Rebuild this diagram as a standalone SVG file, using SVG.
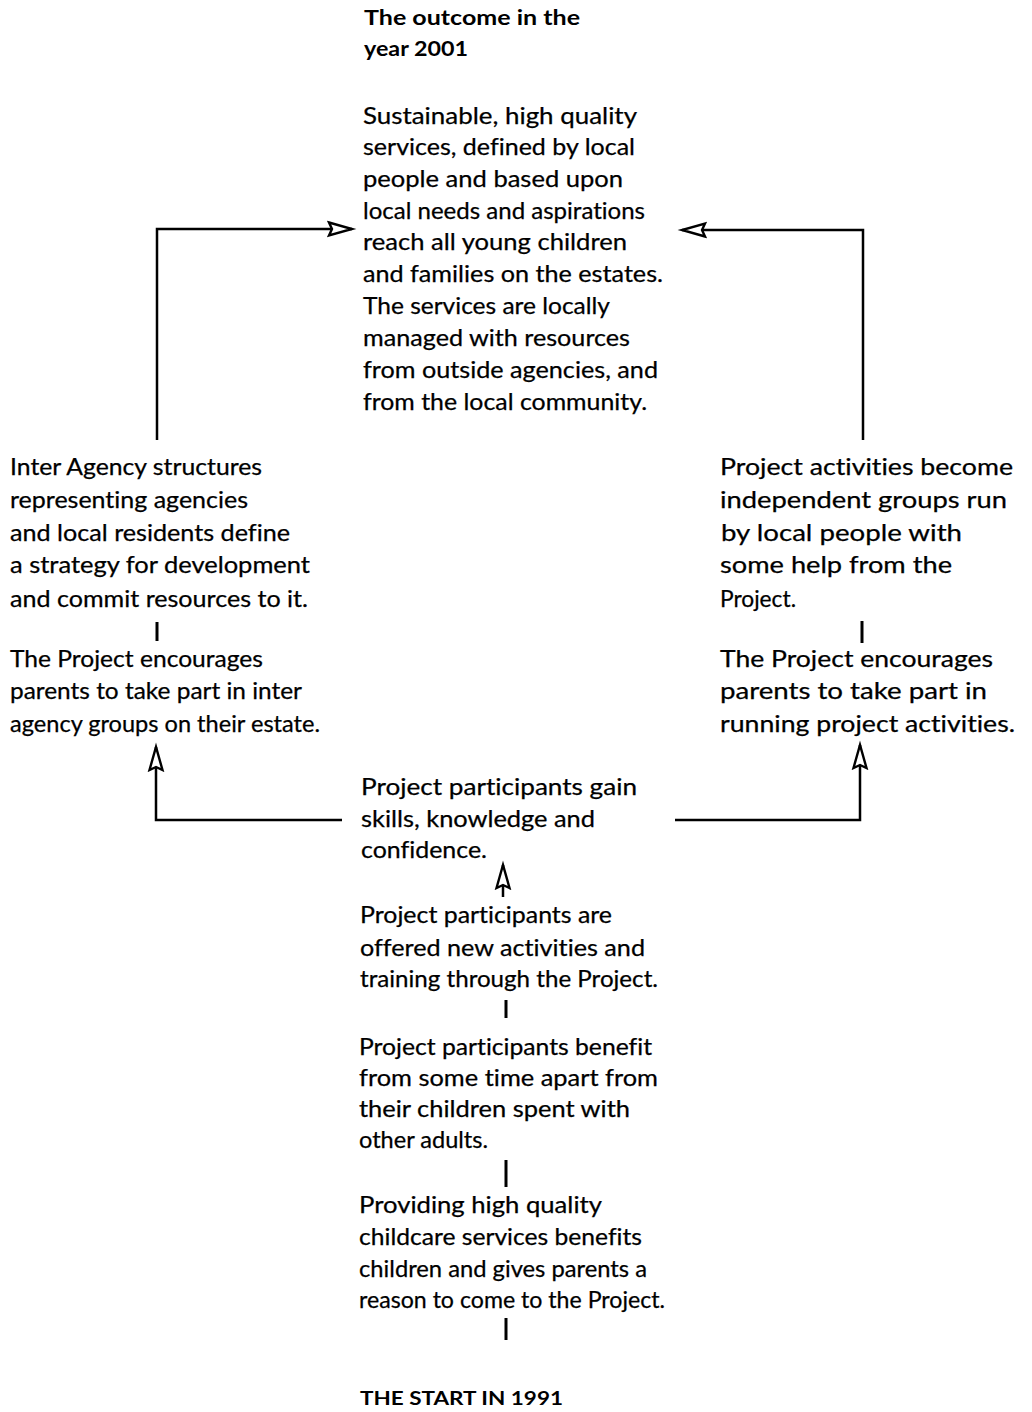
<svg xmlns="http://www.w3.org/2000/svg" width="1032" height="1412" viewBox="0 0 1032 1412">
<style>
  text { font-family: Lato, "Open Sans", "Liberation Sans", sans-serif; fill: #000; font-variant-ligatures: none; }
  .body { font-size: 23px; stroke: #000; stroke-width: 0.25px; }
  .bold { font-weight: bold; font-size: 21px; }
  .caps { font-weight: bold; font-size: 18px; }
  .conn { fill: none; stroke: #000; stroke-width: 2.5; }
  .bar { stroke: #000; stroke-width: 3; }
</style>
<defs>
  <marker id="openArrow" markerUnits="userSpaceOnUse" markerWidth="30" markerHeight="18" refX="25" refY="9" orient="auto">
    <path d="M2,2.5 L25,9 L2,15.5 L5,9 Z" fill="#fff" stroke="#000" stroke-width="2.4" stroke-linejoin="miter"/>
  </marker>
</defs>
<rect width="1032" height="1412" fill="#fff"/>

<g id="connectors">
  <path class="conn" d="M157,440 V229 H352" marker-end="url(#openArrow)"/>
  <path class="conn" d="M863,440 V230 H682" marker-end="url(#openArrow)"/>
  <path class="conn" d="M342,820 H156 V747" marker-end="url(#openArrow)"/>
  <path class="conn" d="M675,820 H860 V745" marker-end="url(#openArrow)"/>
  <path class="conn" d="M503,897 V865" marker-end="url(#openArrow)"/>
  <line class="bar" x1="157" y1="622" x2="157" y2="641"/>
  <line class="bar" x1="862" y1="621" x2="862" y2="643"/>
  <line class="bar" x1="506" y1="1000" x2="506" y2="1018"/>
  <line class="bar" x1="506" y1="1160" x2="506" y2="1187"/>
  <line class="bar" x1="506" y1="1318" x2="506" y2="1340"/>
</g>

<g id="outcome">
  <text class="bold" x="364" y="25" textLength="216" lengthAdjust="spacingAndGlyphs">The outcome in the</text>
  <text class="bold" x="364" y="56" textLength="104" lengthAdjust="spacingAndGlyphs">year 2001</text>
  <text class="body" x="363" y="124" textLength="274" lengthAdjust="spacingAndGlyphs">Sustainable, high quality</text>
  <text class="body" x="363" y="155" textLength="272" lengthAdjust="spacingAndGlyphs">services, defined by local</text>
  <text class="body" x="363" y="187" textLength="260" lengthAdjust="spacingAndGlyphs">people and based upon</text>
  <text class="body" x="363" y="219" textLength="282" lengthAdjust="spacingAndGlyphs">local needs and aspirations</text>
  <text class="body" x="363" y="250" textLength="264" lengthAdjust="spacingAndGlyphs">reach all young children</text>
  <text class="body" x="363" y="282" textLength="300" lengthAdjust="spacingAndGlyphs">and families on the estates.</text>
  <text class="body" x="363" y="314" textLength="247" lengthAdjust="spacingAndGlyphs">The services are locally</text>
  <text class="body" x="363" y="346" textLength="267" lengthAdjust="spacingAndGlyphs">managed with resources</text>
  <text class="body" x="363" y="378" textLength="295" lengthAdjust="spacingAndGlyphs">from outside agencies, and</text>
  <text class="body" x="363" y="410" textLength="284" lengthAdjust="spacingAndGlyphs">from the local community.</text>
</g>

<g id="inter-agency">
  <text class="body" x="10" y="475" textLength="252" lengthAdjust="spacingAndGlyphs">Inter Agency structures</text>
  <text class="body" x="10" y="508" textLength="238" lengthAdjust="spacingAndGlyphs">representing agencies</text>
  <text class="body" x="10" y="541" textLength="280" lengthAdjust="spacingAndGlyphs">and local residents define</text>
  <text class="body" x="10" y="573" textLength="300" lengthAdjust="spacingAndGlyphs">a strategy for development</text>
  <text class="body" x="10" y="607" textLength="298" lengthAdjust="spacingAndGlyphs">and commit resources to it.</text>
</g>

<g id="parents-inter-agency">
  <text class="body" x="10" y="667" textLength="253" lengthAdjust="spacingAndGlyphs">The Project encourages</text>
  <text class="body" x="10" y="699" textLength="292" lengthAdjust="spacingAndGlyphs">parents to take part in inter</text>
  <text class="body" x="10" y="732" textLength="310" lengthAdjust="spacingAndGlyphs">agency groups on their estate.</text>
</g>

<g id="independent-groups">
  <text class="body" x="720" y="475" textLength="293" lengthAdjust="spacingAndGlyphs">Project activities become</text>
  <text class="body" x="720" y="508" textLength="287" lengthAdjust="spacingAndGlyphs">independent groups run</text>
  <text class="body" x="721" y="541" textLength="241" lengthAdjust="spacingAndGlyphs">by local people with</text>
  <text class="body" x="720" y="573" textLength="232" lengthAdjust="spacingAndGlyphs">some help from the</text>
  <text class="body" x="720" y="607" textLength="76" lengthAdjust="spacingAndGlyphs">Project.</text>
</g>

<g id="parents-running">
  <text class="body" x="720" y="667" textLength="273" lengthAdjust="spacingAndGlyphs">The Project encourages</text>
  <text class="body" x="720" y="699" textLength="267" lengthAdjust="spacingAndGlyphs">parents to take part in</text>
  <text class="body" x="720" y="732" textLength="295" lengthAdjust="spacingAndGlyphs">running project activities.</text>
</g>

<g id="gain-skills">
  <text class="body" x="361" y="795" textLength="276" lengthAdjust="spacingAndGlyphs">Project participants gain</text>
  <text class="body" x="361" y="827" textLength="234" lengthAdjust="spacingAndGlyphs">skills, knowledge and</text>
  <text class="body" x="361" y="858" textLength="126" lengthAdjust="spacingAndGlyphs">confidence.</text>
</g>

<g id="offered-activities">
  <text class="body" x="360" y="923" textLength="252" lengthAdjust="spacingAndGlyphs">Project participants are</text>
  <text class="body" x="360" y="956" textLength="285" lengthAdjust="spacingAndGlyphs">offered new activities and</text>
  <text class="body" x="360" y="987" textLength="298" lengthAdjust="spacingAndGlyphs">training through the Project.</text>
</g>

<g id="time-apart">
  <text class="body" x="359" y="1055" textLength="293" lengthAdjust="spacingAndGlyphs">Project participants benefit</text>
  <text class="body" x="359" y="1086" textLength="299" lengthAdjust="spacingAndGlyphs">from some time apart from</text>
  <text class="body" x="359" y="1117" textLength="271" lengthAdjust="spacingAndGlyphs">their children spent with</text>
  <text class="body" x="359" y="1148" textLength="129" lengthAdjust="spacingAndGlyphs">other adults.</text>
</g>

<g id="childcare">
  <text class="body" x="359" y="1213" textLength="243" lengthAdjust="spacingAndGlyphs">Providing high quality</text>
  <text class="body" x="359" y="1245" textLength="283" lengthAdjust="spacingAndGlyphs">childcare services benefits</text>
  <text class="body" x="359" y="1277" textLength="288" lengthAdjust="spacingAndGlyphs">children and gives parents a</text>
  <text class="body" x="359" y="1308" textLength="306" lengthAdjust="spacingAndGlyphs">reason to come to the Project.</text>
</g>

<g id="start">
  <text class="caps" x="360" y="1405" textLength="203" lengthAdjust="spacingAndGlyphs">THE START IN 1991</text>
</g>
</svg>
